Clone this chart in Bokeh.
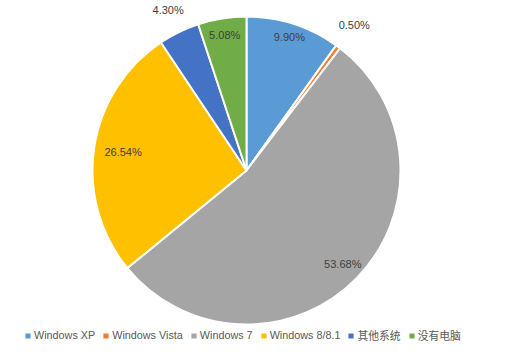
import numpy as np
from bokeh.plotting import figure
from bokeh.models import ColumnDataSource, Range1d, Legend, LegendItem
from bokeh.embed import file_html
from bokeh.resources import INLINE
from bokeh.core.properties import value

# ---- data ----
categories = ["Windows XP", "Windows Vista", "Windows 7", "Windows 8/8.1", "其他系统", "没有电脑"]
shares = [9.90, 0.50, 53.68, 26.54, 4.30, 5.08]
labels = ["9.90%", "0.50%", "53.68%", "26.54%", "4.30%", "5.08%"]
colors = ["#5B9BD5", "#ED7D31", "#A5A5A5", "#FFC000", "#4472C4", "#70AD47"]

# ---- layout ----
W, H = 520, 357
CX, CY, R = 246, 187, 154
label_r = [0.91, 1.175, 0.87, 0.81, 1.16, 0.89]
FONT = "Liberation Sans, Noto Sans CJK SC"

vals = np.array(shares, dtype=float)
tot = vals.sum()
cum = np.concatenate([[0], np.cumsum(vals)])
start = np.pi / 2 - 2 * np.pi * cum[:-1] / tot
end = np.pi / 2 - 2 * np.pi * cum[1:] / tot
mid = (start + end) / 2
lr = np.array(label_r) * R

src = ColumnDataSource(dict(
    cat=categories, val=shares, color=colors,
    start=start, end=end,
    lx=CX + lr * np.cos(mid), ly=CY + lr * np.sin(mid), lab=labels,
))

p = figure(width=W, height=H, output_backend="svg", toolbar_location=None,
           x_range=Range1d(0, W), y_range=Range1d(0, H), min_border=0,
           outline_line_color=None)
p.axis.visible = False
p.grid.visible = False
p.background_fill_color = "white"
p.border_fill_color = "white"

r = p.wedge(x=CX, y=CY, radius=R, start_angle="start", end_angle="end",
            direction="clock", fill_color="color", line_color="white",
            line_width=2, source=src)

p.text(x="lx", y="ly", text="lab", source=src, text_align="center",
       text_baseline="middle", text_font=value(FONT), text_font_size="11px",
       text_color="#404040")

items = [LegendItem(label=c, renderers=[r], index=i) for i, c in enumerate(categories)]
legend = Legend(items=items, orientation="horizontal", location=(23, 14),
                padding=0, margin=0, spacing=6, label_standoff=2,
                glyph_width=9, glyph_height=9, label_height=14,
                label_text_font=FONT, label_text_font_size="10.8px",
                label_text_color="#595959", border_line_color=None,
                background_fill_alpha=0)
p.add_layout(legend, "center")

open("out.html", "w").write(file_html(p, INLINE))
